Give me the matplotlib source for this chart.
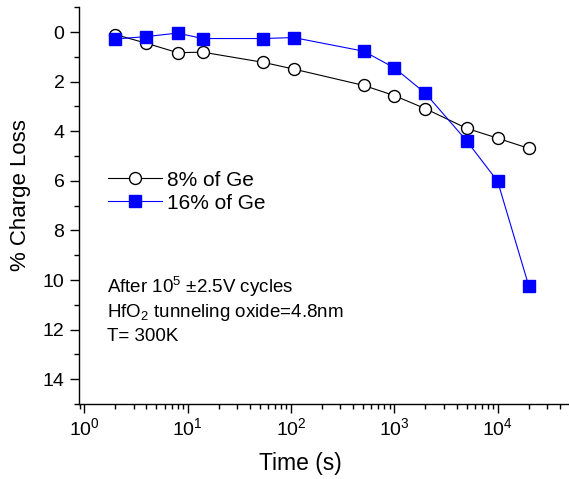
import numpy as np
import matplotlib
matplotlib.use("Agg")
from matplotlib import pyplot as plt
from matplotlib.ticker import LogLocator, MultipleLocator

# Datos
time_s = [2, 4, 8, 14, 54, 106, 505, 1000, 2000, 5000, 10000, 20000]
loss_8ge = [0.1, 0.45, 0.83, 0.81, 1.22, 1.49, 2.15, 2.56, 3.09, 3.88, 4.28, 4.69]
loss_16ge = [0.28, 0.18, 0.04, 0.26, 0.26, 0.22, 0.77, 1.44, 2.47, 4.38, 6.02, 10.24]
labels = ["8% of Ge", "16% of Ge"]
notes = [r"After 10$^5$ ±2.5V cycles", r"HfO$_2$ tunneling oxide=4.8nm", "T= 300K"]

plt.rcParams['font.family'] = ['Liberation Sans', 'DejaVu Sans']
plt.rcParams['mathtext.fontset'] = 'custom'
plt.rcParams['mathtext.rm'] = 'Liberation Sans'
plt.rcParams['mathtext.it'] = 'Liberation Sans:italic'
plt.rcParams['mathtext.bf'] = 'Liberation Sans:bold'

fig = plt.figure(figsize=(5.69, 4.79), dpi=100)
H = 479.0
ax = fig.add_axes([79 / 569, (H - 404) / H, 490 / 569, (404 - 7.3) / H])

ax.plot(time_s, loss_8ge, color='black', lw=0.8, marker='o', ms=8.6,
        mfc='white', mec='black', mew=1.0, label=labels[0])
ax.plot(time_s, loss_16ge, color='#0000ff', lw=0.8, marker='s', ms=8.4,
        mfc='#0000ff', mec='#0000ff', label=labels[1])

ax.set_xscale('log')
ax.set_xlim(0.89, 4.9e4)
ax.set_ylim(15, -1)
ax.yaxis.set_major_locator(MultipleLocator(2))
ax.yaxis.set_minor_locator(MultipleLocator(1))
ax.xaxis.set_major_locator(LogLocator(base=10, numticks=10))
ax.xaxis.set_minor_locator(LogLocator(base=10, subs=np.arange(2, 10), numticks=20))

for s in ['top', 'right']:
    ax.spines[s].set_visible(False)
for s in ['left', 'bottom']:
    ax.spines[s].set_linewidth(1.0)

ax.tick_params(which='major', direction='out', length=6.5, width=1.0, labelsize=14)
ax.tick_params(which='minor', direction='out', length=3.4, width=1.0)
ax.tick_params(axis='x', which='major', pad=3)
ax.tick_params(axis='y', which='major', pad=4)

ax.set_xlabel('Time (s)', fontsize=16.5)
ax.set_ylabel('% Charge Loss', fontsize=16)
ax.xaxis.set_label_coords((300 - 79) / 490, -(452 - 404) / 396.7, transform=ax.transAxes)
ax.yaxis.set_label_coords(-(79 - 31.5) / 490, (404 - 195) / 396.7)

ax.legend(loc='center left', bbox_to_anchor=((108 - 79) / 490, (404 - 191.7) / 396.7),
          frameon=False, fontsize=15, handlelength=2.6, handletextpad=0.25,
          labelspacing=0.2, borderpad=0, borderaxespad=0)

for txt, yb in zip(notes, [293, 316.7, 341]):
    ax.text((106.7 - 79) / 490, (404 - yb) / 396.7, txt, transform=ax.transAxes,
            fontsize=13.5, va='baseline', ha='left')

fig.savefig('out.png', dpi=100)
